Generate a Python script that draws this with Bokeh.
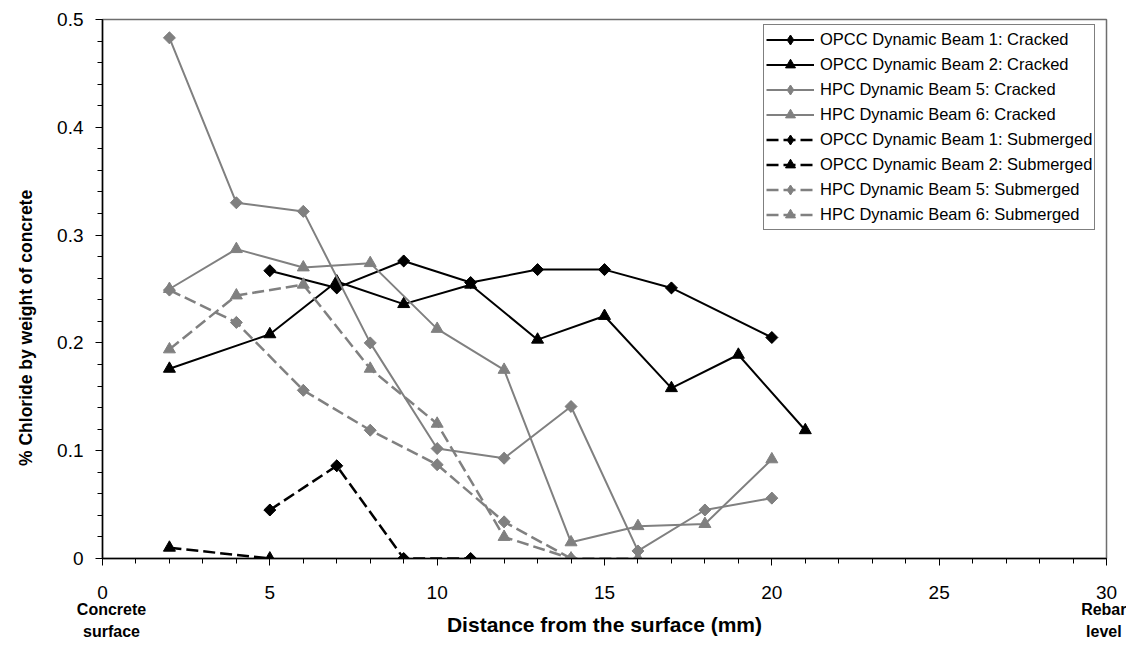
import math
from bokeh.plotting import figure
from bokeh.models import Range1d, FixedTicker, LinearAxis, Legend, LegendItem
from bokeh.embed import file_html
from bokeh.resources import INLINE

# ---------------- data ----------------
opcc1_cr_x = [5, 7, 9, 11, 13, 15, 17, 20]
opcc1_cr_y = [0.267, 0.251, 0.276, 0.256, 0.268, 0.268, 0.251, 0.205]

opcc2_cr_x = [2, 5, 7, 9, 11, 13, 15, 17, 19, 21]
opcc2_cr_y = [0.176, 0.208, 0.257, 0.236, 0.254, 0.203, 0.225, 0.158, 0.189, 0.119]

hpc5_cr_x = [2, 4, 6, 8, 10, 12, 14, 16, 18, 20]
hpc5_cr_y = [0.483, 0.330, 0.322, 0.200, 0.102, 0.093, 0.141, 0.007, 0.045, 0.056]

hpc6_cr_x = [2, 4, 6, 8, 10, 12, 14, 16, 18, 20]
hpc6_cr_y = [0.250, 0.287, 0.270, 0.274, 0.213, 0.175, 0.015, 0.030, 0.032, 0.092]

opcc1_sub_x = [5, 7, 9, 11]
opcc1_sub_y = [0.045, 0.086, 0.0, 0.0]

opcc2_sub_x = [2, 5]
opcc2_sub_y = [0.010, 0.0]

hpc5_sub_x = [2, 4, 6, 8, 10, 12, 14]
hpc5_sub_y = [0.249, 0.219, 0.156, 0.119, 0.087, 0.034, 0.0]

hpc6_sub_x = [2, 4, 6, 8, 10, 12, 14, 16]
hpc6_sub_y = [0.194, 0.244, 0.254, 0.176, 0.125, 0.020, 0.0, 0.0]

series_names = [
    "OPCC Dynamic Beam 1: Cracked",
    "OPCC Dynamic Beam 2: Cracked",
    "HPC Dynamic Beam 5: Cracked",
    "HPC Dynamic Beam 6: Cracked",
    "OPCC Dynamic Beam 1: Submerged",
    "OPCC Dynamic Beam 2: Submerged",
    "HPC Dynamic Beam 5: Submerged",
    "HPC Dynamic Beam 6: Submerged",
]

x_ticks = [0, 5, 10, 15, 20, 25, 30]
x_minor = list(range(0, 31))
y_ticks = [0, 0.1, 0.2, 0.3, 0.4, 0.5]
y_tick_labels = ["0", "0.1", "0.2", "0.3", "0.4", "0.5"]
y_minor = [round(i * 0.02, 2) for i in range(0, 26)]

end_ticks = [0.27, 30]
end_labels = ["Concrete\nsurface", "Rebar\nlevel"]

x_title = "Distance from the surface (mm)"
y_title = "% Chloride by weight of  concrete"

# ---------------- styles ----------------
BLACK = "#000000"
GRAY = "#808080"
FONT = "Liberation Sans"

series = [
    (opcc1_cr_x, opcc1_cr_y, BLACK, "solid", "diamond"),
    (opcc2_cr_x, opcc2_cr_y, BLACK, "solid", "triangle"),
    (hpc5_cr_x, hpc5_cr_y, GRAY, "solid", "diamond"),
    (hpc6_cr_x, hpc6_cr_y, GRAY, "solid", "triangle"),
    (opcc1_sub_x, opcc1_sub_y, BLACK, "12 5", "diamond"),
    (opcc2_sub_x, opcc2_sub_y, BLACK, "12 5", "triangle"),
    (hpc5_sub_x, hpc5_sub_y, GRAY, "12 5", "diamond"),
    (hpc6_sub_x, hpc6_sub_y, GRAY, "12 5", "triangle"),
]

p = figure(width=1126, height=643, output_backend="svg", toolbar_location=None,
           x_range=Range1d(0, 30), y_range=Range1d(0, 0.5),
           min_border_left=102, min_border_right=20, min_border_top=19, min_border_bottom=85)

p.xgrid.visible = False
p.ygrid.visible = False
p.outline_line_color = "#6e6e6e"
p.outline_line_width = 1.5

items = []
for (xs, ys, col, dash, mk), name in zip(series, series_names):
    lw = 2 if dash == "solid" else 2.5
    lr = p.line(xs, ys, line_color=col, line_width=lw, line_dash=dash)
    if mk == "diamond":
        # narrow diamond, hidden under the rotated squares; used for the legend glyph
        mr = p.scatter(xs, ys, marker="diamond", size=11,
                       fill_color=col, line_color=col)
        p.scatter(xs, ys, marker="square", angle=math.pi / 4, size=8.5,
                  fill_color=col, line_color=col)
    else:
        mr = p.scatter(xs, ys, marker="triangle", size=12,
                       fill_color=col, line_color=col)
    items.append(LegendItem(label=name, renderers=[lr, mr]))

# axes
for ax in (p.xaxis[0], p.yaxis[0]):
    ax.axis_line_color = BLACK
    ax.axis_line_width = 1.5
    ax.major_tick_line_color = BLACK
    ax.minor_tick_line_color = BLACK
    ax.major_tick_in = 0
    ax.major_tick_out = 7
    ax.minor_tick_in = 0
    ax.minor_tick_out = 5
    ax.major_label_text_font = FONT
    ax.major_label_text_font_size = "19px"
    ax.major_label_text_color = BLACK
    ax.axis_label_text_font = FONT
    ax.axis_label_text_font_style = "bold"
    ax.axis_label_text_color = BLACK

p.xaxis[0].ticker = FixedTicker(ticks=x_ticks, minor_ticks=x_minor)
p.yaxis[0].ticker = FixedTicker(ticks=y_ticks, minor_ticks=y_minor)
p.yaxis[0].major_label_overrides = {t: l for t, l in zip(y_ticks, y_tick_labels)}
p.xaxis[0].major_label_standoff = 20
p.yaxis[0].axis_label = y_title + "\u00a0" * 15
p.yaxis[0].axis_label_text_font_size = "17.5px"
p.yaxis[0].major_label_standoff = 12
p.yaxis[0].axis_label_standoff = 18

# second axis below: end labels + axis title
ax2 = LinearAxis(ticker=FixedTicker(ticks=end_ticks, minor_ticks=[]))
ax2.major_label_overrides = {t: l for t, l in zip(end_ticks, end_labels)}
ax2.axis_line_color = None
ax2.major_tick_line_color = None
ax2.minor_tick_line_color = None
ax2.major_tick_out = 0
ax2.major_tick_in = 0
ax2.major_label_standoff = -1
ax2.major_label_text_font = FONT
ax2.major_label_text_font_size = "16px"
ax2.major_label_text_font_style = "bold"
ax2.major_label_text_line_height = 1.3
ax2.major_label_text_color = BLACK
ax2.axis_label = x_title
ax2.axis_label_text_font = FONT
ax2.axis_label_text_font_size = "21px"
ax2.axis_label_text_font_style = "bold"
ax2.axis_label_text_color = BLACK
ax2.axis_label_standoff = -30
p.add_layout(ax2, "below")

# legend
lg = Legend(items=items, location=(661, 328))
lg.border_line_color = BLACK
lg.border_line_width = 1
lg.background_fill_color = "white"
lg.background_fill_alpha = 1
lg.label_text_font = FONT
lg.label_text_font_size = "16.5px"
lg.label_text_color = BLACK
lg.glyph_width = 48
lg.glyph_height = 25
lg.label_height = 18
lg.label_standoff = 6
lg.padding = 2
lg.spacing = 0
lg.margin = 0
p.add_layout(lg)

open("out.html", "w").write(file_html(p, INLINE))
